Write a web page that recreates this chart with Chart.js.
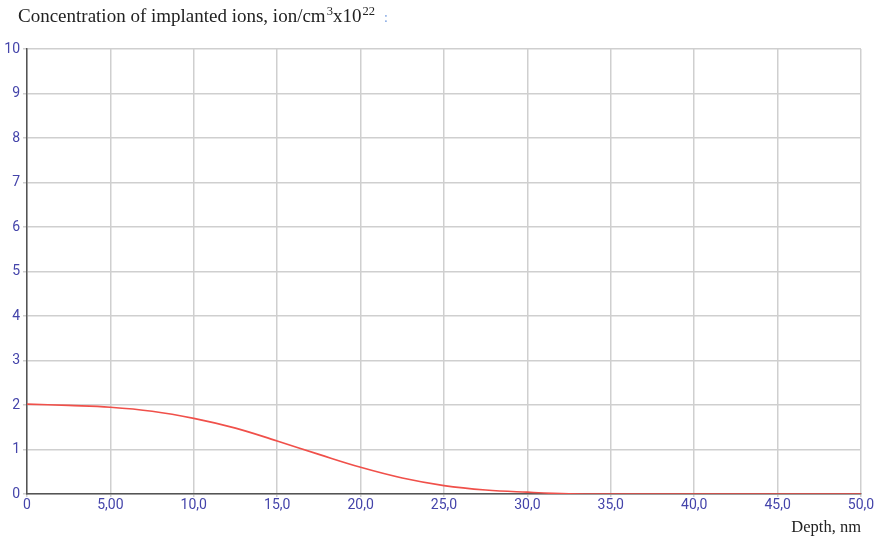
<!DOCTYPE html>
<html>
<head>
<meta charset="utf-8">
<script src="https://cdn.jsdelivr.net/npm/chart.js@4/dist/chart.umd.min.js"></script>
<style>
  body { margin: 0; background: #fff; }
  #wrap { position: relative; width: 883px; height: 539px; }
  #titulo {
    position: absolute; left: 18px; top: 4px;
    font-family: "Liberation Serif", "Times New Roman", serif;
    font-size: 19px; color: #222; white-space: nowrap;
  }
  #titulo sup { font-size: 12.5px; vertical-align: 7px; margin-left: 1px; }
  #titulo .dot { color: #7aa0e0; margin-left: 9px; font-size: 14px; }
</style>
</head>
<body>
<div id="wrap">
  <canvas id="canvas" width="883" height="539"></canvas>
  <div id="titulo">Concentration of implanted ions, ion/cm<sup>3</sup>x10<sup>22</sup><span class="dot">:</span></div>
</div>
<script>
// profundidad (nm) y concentracion (x10^22 ion/cm3)
var depth = [0, 2.5, 5, 7.5, 10, 12.5, 15, 17.5, 20, 22.5, 25, 27.5, 30, 32.5, 35, 40, 45, 50];
var concentration = [2.02, 1.99, 1.95, 1.86, 1.70, 1.48, 1.19, 0.89, 0.60, 0.36, 0.19, 0.09, 0.04, 0.005, 0, 0, 0, 0];
var yTicks = [0, 1, 2, 3, 4, 5, 6, 7, 8, 9, 10];
var xTicks = [0, 5, 10, 15, 20, 25, 30, 35, 40, 45, 50];
var xLabels = ["0", "5,00", "10,0", "15,0", "20,0", "25,0", "30,0", "35,0", "40,0", "45,0", "50,0"];

var labelColor = "#4444aa";
var gridColor = "#cfcfcf";

var puntos = [];
for (var i = 0; i < depth.length; i++) {
  puntos.push({ x: depth[i], y: concentration[i] });
}

var ctx = document.getElementById("canvas").getContext("2d");
window.myLine = new Chart(ctx, {
  type: "line",
  data: {
    datasets: [
      {
        label: "Concentration",
        data: puntos,
        borderColor: "#f0504a",
        borderWidth: 1.7,
        pointRadius: 0,
        tension: 0.4,
        fill: false,
      },
    ],
  },
  options: {
    responsive: false,
    animation: false,
    layout: { padding: { left: 0, right: 22, top: 49, bottom: 0 } },
    plugins: {
      legend: { display: false },
      title: { display: false },
      tooltip: { enabled: false },
    },
    scales: {
      x: {
        type: "linear",
        min: 0,
        max: 50,
        afterBuildTicks: function (scale) {
          scale.ticks = xTicks.map(function (v) { return { value: v }; });
        },
        afterFit: function (scale) { scale.height = 45; },
        border: { display: true, color: "#555", width: 1.5 },
        grid: { color: gridColor, lineWidth: 1.5, tickLength: 3, drawTicks: true },
        ticks: {
          color: labelColor,
          font: { family: "Roboto, 'DejaVu Sans', sans-serif", size: 14 },
          padding: 0,
          maxRotation: 0,
          autoSkip: false,
          callback: function (value) {
            var idx = xTicks.indexOf(value);
            return idx >= 0 ? xLabels[idx] : "";
          },
        },
        title: {
          display: true,
          text: "Depth, nm",
          align: "end",
          color: "#222",
          font: { family: "'Liberation Serif', 'Times New Roman', serif", size: 16.5 },
          padding: { top: 0, bottom: 1 },
        },
      },
      y: {
        min: 0,
        max: 10,
        afterBuildTicks: function (scale) {
          scale.ticks = yTicks.map(function (v) { return { value: v }; });
        },
        afterFit: function (scale) { scale.width = 27; },
        border: { display: true, color: "#555", width: 1.5 },
        grid: { color: gridColor, lineWidth: 1.5, tickLength: 4, drawTicks: true },
        ticks: {
          color: labelColor,
          font: { family: "Roboto, 'DejaVu Sans', sans-serif", size: 14 },
          padding: 3,
          autoSkip: false,
        },
      },
    },
  },
});
</script>
</body>
</html>
